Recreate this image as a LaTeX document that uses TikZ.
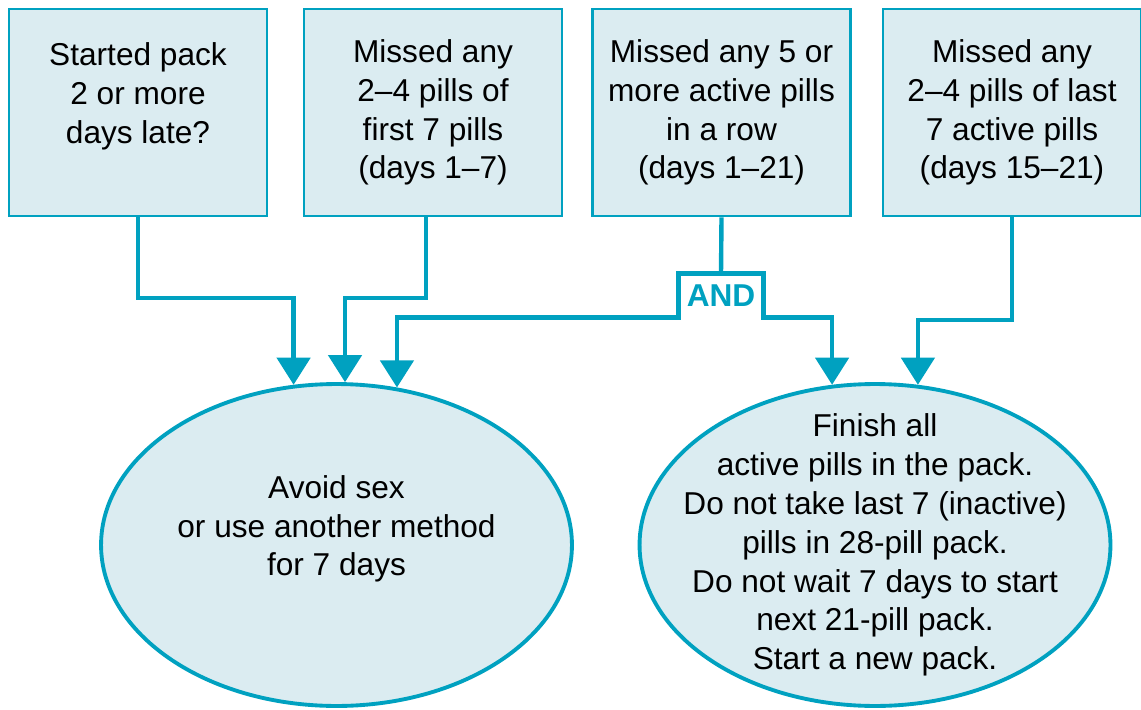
\documentclass[tikz,border=0pt]{standalone}
\usepackage{fontspec}
\setmainfont{Liberation Sans}
\usetikzlibrary{arrows.meta,shapes.geometric}
\definecolor{pillblue}{RGB}{0,161,192}
\definecolor{pillfill}{RGB}{219,236,241}
\tikzset{box/.style={draw=pillblue,fill=pillfill,line width=1.5pt,
           minimum width=5.16cm,minimum height=4.14cm,inner sep=0pt,
           align=center,font=\fontsize{18}{22.1}\selectfont},
         oval/.style={ellipse,draw=pillblue,fill=pillfill,line width=2.2pt,
           minimum width=9.42cm,minimum height=6.44cm,inner xsep=-16pt,inner ysep=-12pt,
           align=center,font=\fontsize{18}{22.1}\selectfont},
         andbox/.style={minimum width=1.68cm,minimum height=0.86cm,inner sep=0pt,
           text=pillblue,font=\bfseries\fontsize{18}{22}\selectfont},
         link/.style={draw=pillblue,line width=2.5pt},
         tip/.style={link,-{Triangle[width=18.8pt,length=15.4pt]}},
         twotips/.style={link,{Triangle[width=18.8pt,length=15.4pt]}-{Triangle[width=18.8pt,length=15.4pt]}}}

\begin{document}
\begin{tikzpicture}[x=0.02cm,y=-0.02cm]
  \useasboundingbox (0,0) rectangle (1141,709);
  \node[box] (late) at (138,112.5) {Started pack\\2 or more\\days late?\\\mbox{}};
  \node[box] (first) at (433,112.5) {Missed any\\2–4 pills of\\first 7 pills\\(days 1–7)};
  \node[box] (five) at (721.5,112.5) {Missed any 5 or\\more active pills\\in a row\\(days 1–21)};
  \node[box] (last) at (1012,112.5) {Missed any\\2–4 pills of last\\7 active pills\\(days 15–21)};
  \node[andbox] (and) at (721,295.5) {AND};
  \node[oval] (avoid) at (336.5,545) {Avoid sex\\or use another method\\for 7 days\\\mbox{}};
  \node[oval] (finish) at (875,545) {Finish all\\active pills in the pack.\\Do not take last 7 (inactive)\\pills in 28-pill pack.\\Do not wait 7 days to start\\next 21-pill pack.\\Start a new pack.};

  \draw[tip] (late.south) -- ++(0,81) -| (avoid.105.9);
  \draw[tip] ([xshift=-0.14cm]first.south) -- ++(0,81) -| (avoid.87.7);
  \draw[link] (five.south) -- (and.north);
  \draw[twotips] (avoid.69.7) |- (and.south west) -- (and.north west)
    -- (and.north east) -- (and.south east) -| (finish.105);
  \draw[tip] (last.south) -- ++(0,103) -| (finish.75);
\end{tikzpicture}
\end{document}
